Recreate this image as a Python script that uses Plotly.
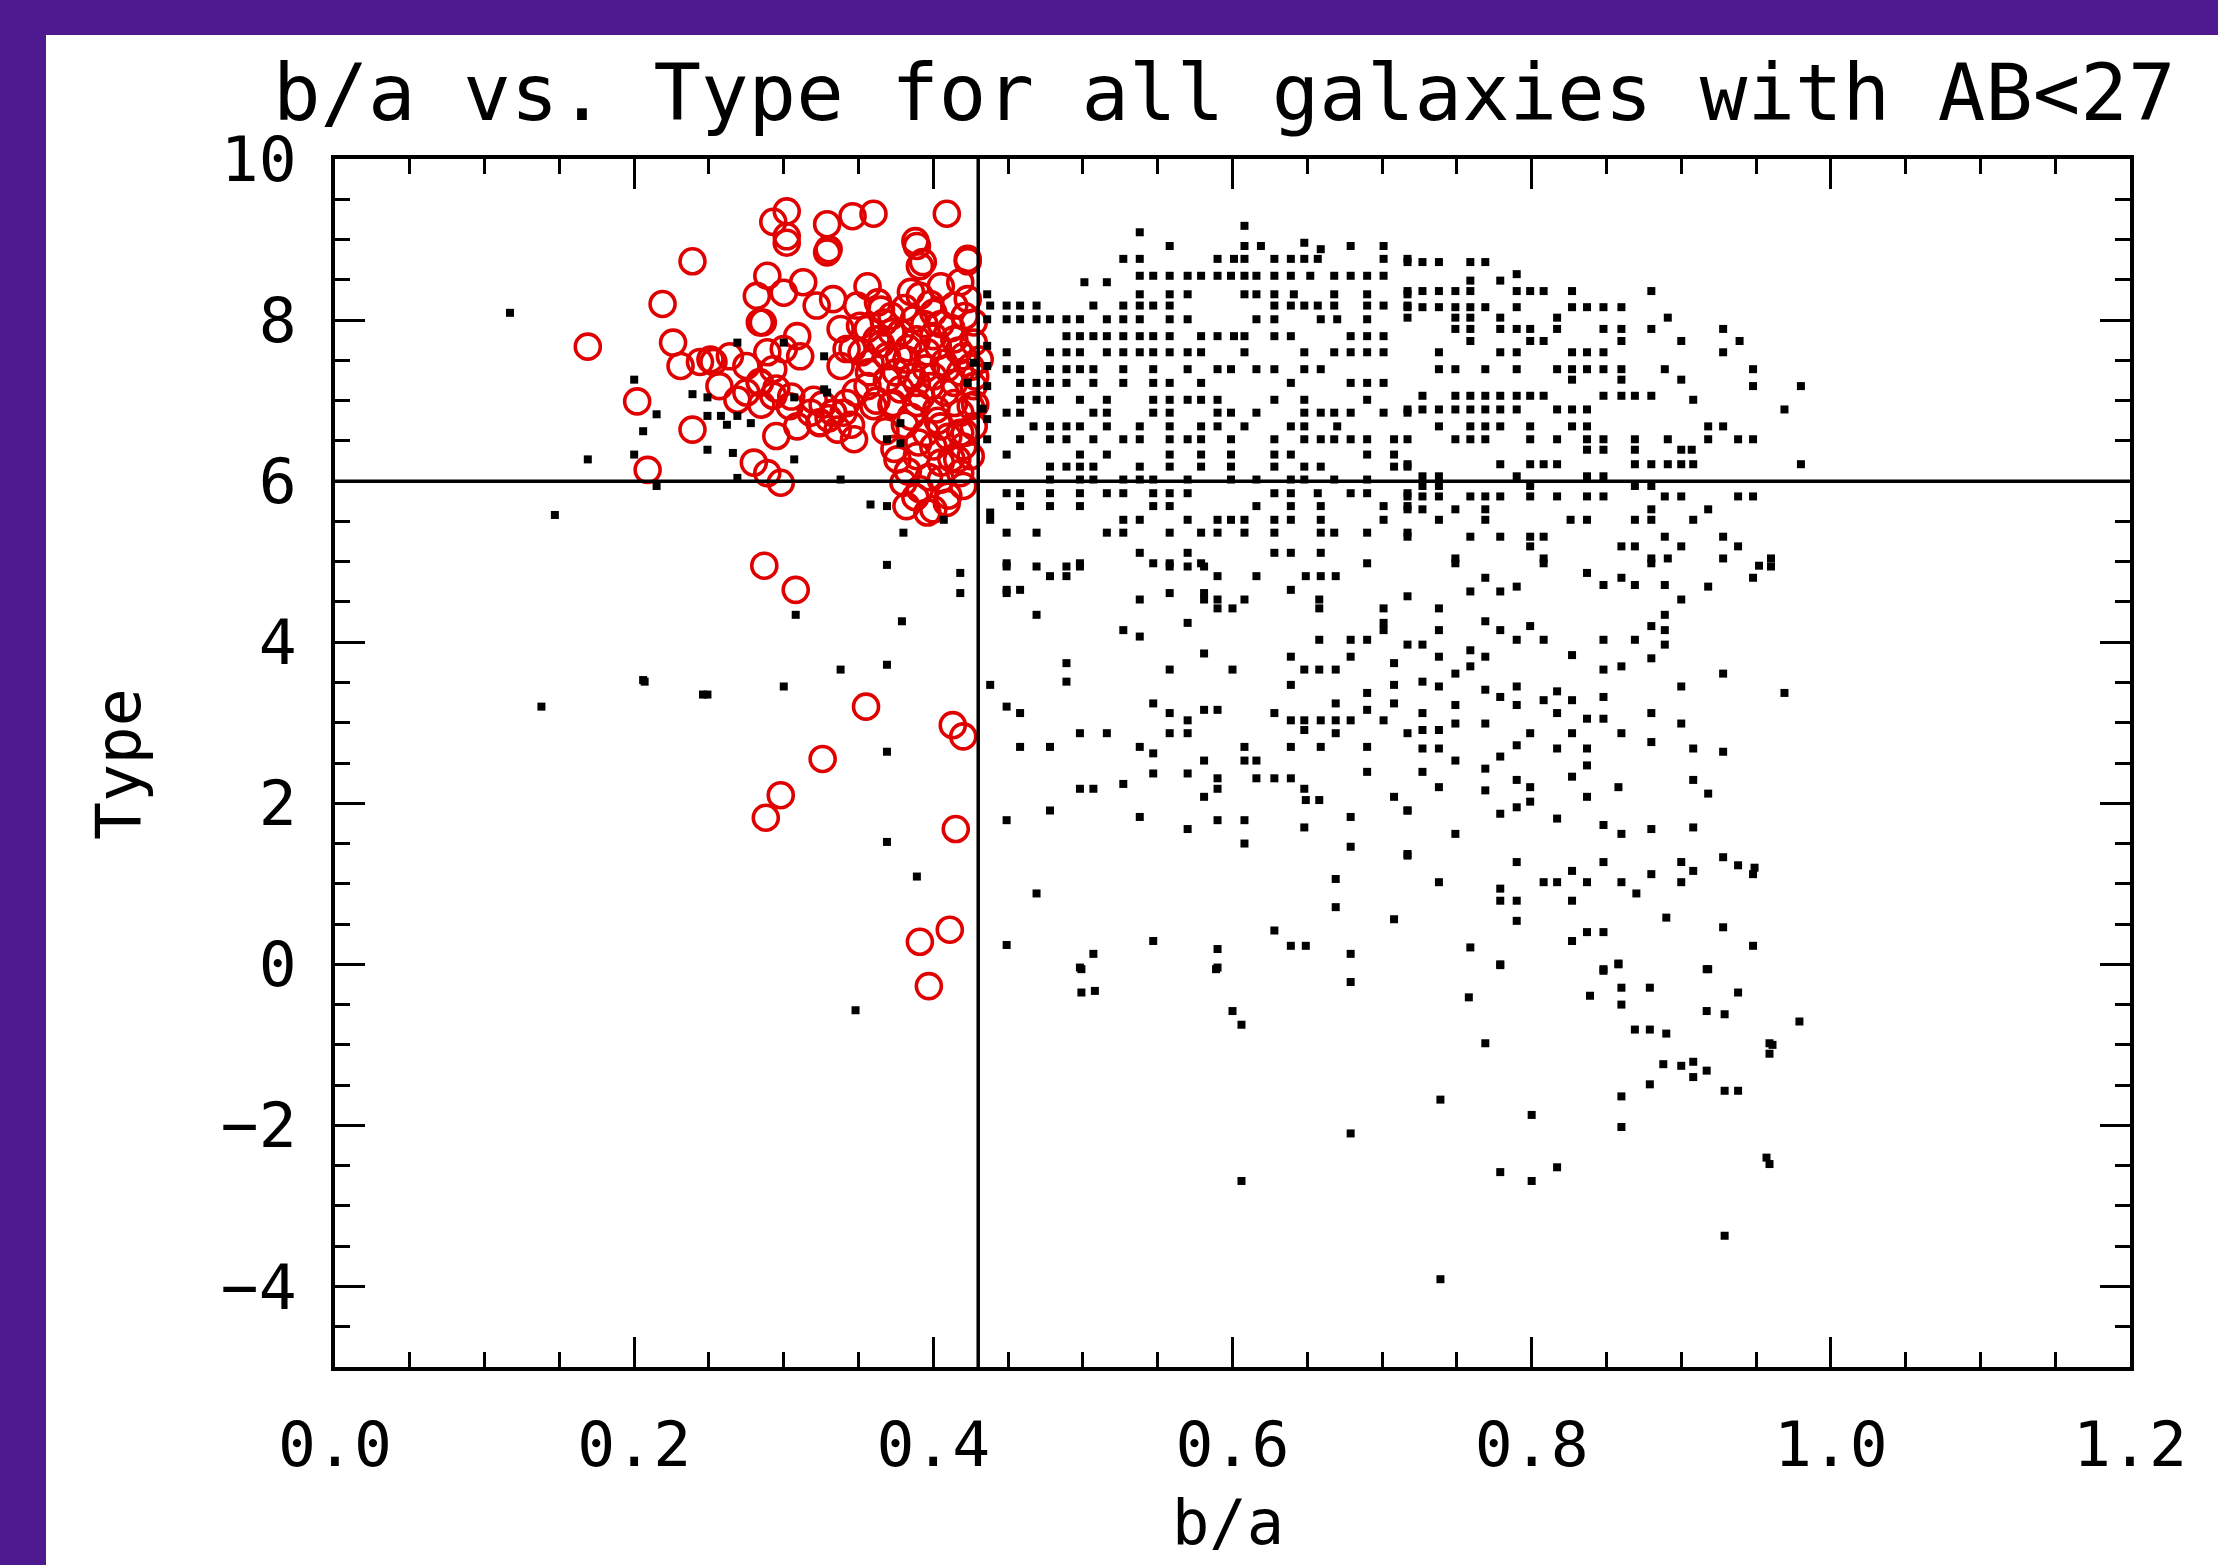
import plotly.graph_objects as go

# ---------------- data ----------------
title_text = "b/a vs. Type for all galaxies with AB<27"
x_title = "b/a"
y_title = "Type"
x_ticks = [0.0, 0.2, 0.4, 0.6, 0.8, 1.0, 1.2]
y_ticks = [-4, -2, 0, 2, 4, 6, 8, 10]
cut_ba = 0.43      # vertical selection line
cut_type = 6.0     # horizontal selection line

# Red open circles (selected galaxies): b/a and Type
red_ba = [
    0.169, 0.202, 0.209, 0.219, 0.226, 0.239, 0.239, 0.231, 0.244, 0.253,
    0.287, 0.308, 0.355, 0.326, 0.298, 0.288, 0.413, 0.420, 0.415, 0.391, 0.411, 0.397,
    0.293, 0.302, 0.302, 0.329, 0.330, 0.346, 0.360, 0.409, 0.388, 0.393, 0.423,
    0.302, 0.329, 0.389, 0.391, 0.423,
    0.289, 0.282, 0.300, 0.313, 0.322, 0.333, 0.356, 0.349, 0.365,
    0.284, 0.309, 0.338, 0.351, 0.362,
    0.391, 0.405, 0.418, 0.400, 0.414, 0.423, 0.387, 0.427,
    0.251, 0.264, 0.275, 0.289, 0.300, 0.311, 0.338, 0.342,
    0.378, 0.389, 0.400, 0.414, 0.427,
    0.358, 0.369, 0.382, 0.396, 0.407, 0.420, 0.431,
    0.257, 0.269, 0.284, 0.293, 0.304, 0.320, 0.333, 0.342,
    0.356, 0.369, 0.378, 0.389, 0.400, 0.414, 0.427,
    0.360, 0.373, 0.389, 0.402, 0.414, 0.425,
    0.295, 0.309, 0.324, 0.336, 0.347,
    0.405, 0.418, 0.427, 0.400, 0.420,
    0.280, 0.289, 0.298,
    0.376, 0.389, 0.405, 0.416, 0.425,
    0.380, 0.391, 0.405, 0.420,
    0.382, 0.396, 0.409,
    0.372, 0.383, 0.395, 0.408, 0.418, 0.385, 0.395, 0.410, 0.392, 0.375,
    0.405, 0.418, 0.428, 0.398, 0.385,
    0.275, 0.285, 0.295, 0.305, 0.318, 0.326, 0.330, 0.345, 0.340,
    0.286, 0.293, 0.284, 0.324, 0.333, 0.346, 0.356, 0.367, 0.363,
    0.372, 0.381, 0.394, 0.403, 0.412, 0.421, 0.377, 0.386, 0.398, 0.409,
    0.417, 0.425, 0.372, 0.381, 0.390, 0.403, 0.412, 0.421, 0.428, 0.368,
    0.374, 0.383, 0.397, 0.410, 0.418, 0.388, 0.400, 0.365, 0.352, 0.357,
    0.348, 0.362,
]
red_type = [
    7.67, 6.99, 6.14, 8.20, 7.72, 8.73, 6.64, 7.43, 7.48, 7.48,
    4.95, 4.65, 3.20, 2.55, 2.10, 1.82, 2.97, 2.83, 1.68, 0.28, 0.43, -0.27,
    9.22, 9.35, 9.04, 9.19, 8.88, 9.29, 9.32, 9.32, 8.98, 8.72, 8.73,
    8.96, 8.84, 8.92, 8.67, 8.76,
    8.55, 8.30, 8.34, 8.47, 8.18, 8.26, 8.42, 8.18, 8.13,
    7.97, 7.80, 7.89, 7.93, 7.76,
    8.30, 8.42, 8.47, 8.09, 8.18, 8.26, 8.01, 7.97,
    7.51, 7.55, 7.43, 7.60, 7.64, 7.55, 7.43, 7.64,
    7.84, 7.76, 7.80, 7.76, 7.72,
    7.47, 7.55, 7.51, 7.60, 7.47, 7.55, 7.51,
    7.18, 7.01, 7.22, 7.06, 6.93, 7.01, 6.85, 6.97,
    7.18, 7.26, 7.14, 7.22, 7.30, 7.22, 7.18,
    6.93, 6.97, 6.97, 6.89, 6.97, 6.93,
    6.56, 6.68, 6.72, 6.64, 6.52,
    6.68, 6.60, 6.68, 6.43, 6.43,
    6.23, 6.10, 5.98,
    6.27, 6.31, 6.23, 6.27, 6.31,
    5.98, 5.90, 6.02, 5.94,
    5.69, 5.61, 5.73,
    7.85, 7.65, 7.40, 7.10, 6.85, 6.80, 6.60, 6.55, 7.05, 7.35,
    7.95, 7.35, 7.30, 8.20, 8.35,
    7.10, 6.95, 7.15, 7.05, 6.85, 6.95, 6.78, 6.70, 6.85,
    7.97, 7.39, 7.23, 6.73, 6.85, 7.64, 7.89, 7.97, 8.22,
    8.05, 8.15, 7.95, 7.68, 7.90, 8.05, 7.55, 7.30, 7.18, 7.40,
    7.62, 7.42, 6.95, 6.70, 6.48, 6.75, 6.28, 6.60, 6.95, 6.62,
    6.40, 6.12, 6.05, 5.82, 6.10, 5.80, 5.65, 7.70, 7.60, 7.35,
    7.10, 7.00,
]

# Black dots, left of the b/a cut (b/a, Type)
left_ba = [
    0.117, 0.147, 0.169, 0.200, 0.200, 0.206, 0.215, 0.215, 0.239, 0.249,
    0.258, 0.269, 0.249, 0.266, 0.269, 0.300, 0.307, 0.327, 0.269, 0.307,
    0.338, 0.358, 0.369, 0.380, 0.407, 0.378, 0.369, 0.427, 0.423, 0.278,
    0.327, 0.329, 0.378, 0.249, 0.262,
    0.369, 0.418, 0.418, 0.308, 0.379, 0.369, 0.338, 0.300, 0.207, 0.249,
    0.138, 0.369, 0.369, 0.389, 0.348, 0.206, 0.246,
]
left_type = [
    8.09, 5.58, 6.27, 7.26, 6.33, 6.62, 6.83, 5.94, 7.08, 7.04,
    6.81, 6.81, 6.39, 6.35, 7.72, 7.72, 7.04, 7.14, 6.04, 6.27,
    6.02, 5.71, 5.69, 5.36, 5.52, 6.72, 6.52, 7.47, 7.22, 6.72,
    7.55, 7.10, 6.47, 6.81, 6.70,
    4.96, 4.86, 4.61, 4.34, 4.26, 3.72, 3.66, 3.45, 3.51, 3.35,
    3.20, 2.64, 1.52, 1.09, -0.57, 3.53, 3.35,
]

# Black dots, right of the cut, read row by row: (Type, [b/a values])
rows_upper_a = [
    (9.17, [0.608]),
    (9.09, [0.538]),
    (8.96, [0.648]),
    (8.92, [0.558, 0.608, 0.619, 0.679, 0.701]),
    (8.88, [0.659]),
    (8.76, [0.527, 0.538, 0.590, 0.601, 0.608, 0.628, 0.639, 0.648, 0.657, 0.701, 0.717]),
    (8.55, [0.538, 0.547, 0.558, 0.570, 0.579, 0.590, 0.599, 0.608, 0.616, 0.628, 0.639, 0.652, 0.668, 0.679, 0.690, 0.701]),
    (8.47, [0.501, 0.516]),
    (8.32, [0.436, 0.538, 0.558, 0.570, 0.608, 0.616, 0.628, 0.641, 0.668, 0.690, 0.717]),
    (8.18, [0.438, 0.449, 0.458, 0.469, 0.507, 0.527, 0.538, 0.547, 0.558, 0.628, 0.639, 0.648, 0.657, 0.668, 0.690, 0.701, 0.717]),
    (8.01, [0.436, 0.449, 0.458, 0.469, 0.478, 0.489, 0.498, 0.516, 0.527, 0.538, 0.558, 0.570, 0.616, 0.628, 0.659, 0.670, 0.690]),
    (7.80, [0.489, 0.498, 0.507, 0.516, 0.527, 0.538, 0.547, 0.558, 0.579, 0.590, 0.601, 0.608, 0.628, 0.639, 0.679, 0.690, 0.701]),
    (7.68, [0.436]),
    (7.60, [0.449, 0.478, 0.489, 0.498, 0.516, 0.527, 0.538, 0.547, 0.558, 0.570, 0.579, 0.608, 0.648, 0.668, 0.679, 0.690, 0.701]),
    (7.43, [0.436]),
    (7.39, [0.449, 0.458, 0.478, 0.489, 0.498, 0.507, 0.527, 0.547, 0.570, 0.590, 0.599, 0.616, 0.628, 0.648, 0.659]),
    (7.22, [0.458, 0.469, 0.478, 0.489, 0.507, 0.527, 0.547, 0.558, 0.579, 0.639, 0.679, 0.690, 0.701]),
    (7.18, [0.436]),
    (7.01, [0.458, 0.469, 0.478, 0.498, 0.516, 0.547, 0.558, 0.570, 0.579, 0.590, 0.628, 0.648, 0.690]),
    (6.90, [0.433]),
    (6.85, [0.449, 0.458, 0.507, 0.516, 0.547, 0.558, 0.590, 0.599, 0.616, 0.648, 0.659, 0.668, 0.679, 0.701, 0.717]),
    (6.77, [0.436]),
    (6.68, [0.467, 0.478, 0.489, 0.498, 0.516, 0.538, 0.558, 0.579, 0.590, 0.608, 0.639, 0.648, 0.670]),
    (6.52, [0.436, 0.458, 0.478, 0.489, 0.507, 0.527, 0.538, 0.558, 0.570, 0.579, 0.599, 0.628, 0.648, 0.659, 0.668, 0.679, 0.690, 0.708]),
    (6.33, [0.449, 0.498, 0.516, 0.558, 0.579, 0.599, 0.628, 0.639, 0.690, 0.708]),
    (6.18, [0.478, 0.489, 0.498, 0.507, 0.538, 0.558, 0.579, 0.599, 0.628, 0.648, 0.659, 0.708, 0.717]),
    (6.02, [0.478, 0.498, 0.507, 0.527, 0.538, 0.547, 0.570, 0.599, 0.616, 0.639, 0.648, 0.668, 0.690]),
    (5.85, [0.449, 0.458, 0.478, 0.498, 0.516, 0.527, 0.547, 0.558, 0.570, 0.628, 0.639, 0.657, 0.679, 0.690, 0.717]),
    (5.69, [0.458, 0.478, 0.498, 0.547, 0.558, 0.616, 0.639, 0.659, 0.701, 0.717]),
    (5.61, [0.438]),
    (5.52, [0.438, 0.527, 0.538, 0.570, 0.590, 0.599, 0.608, 0.628, 0.639, 0.659, 0.701]),
    (5.36, [0.449, 0.469, 0.516, 0.527, 0.558, 0.579, 0.590, 0.608, 0.628, 0.659, 0.668, 0.690, 0.717]),
    (5.11, [0.538, 0.570, 0.628, 0.639, 0.659]),
    (4.98, [0.449, 0.498, 0.547, 0.558, 0.579, 0.690]),
]

rows_upper_b = [
    (8.72, [0.717, 0.727, 0.738, 0.759, 0.769]),
    (8.57, [0.790]),
    (8.49, [0.759, 0.779]),
    (8.36, [0.717, 0.727, 0.738, 0.749, 0.759, 0.790, 0.799, 0.808, 0.827, 0.880]),
    (8.16, [0.717, 0.727, 0.738, 0.749, 0.759, 0.769, 0.790, 0.827, 0.837, 0.848, 0.860]),
    (8.03, [0.717, 0.749, 0.759, 0.779, 0.817, 0.891]),
    (7.89, [0.749, 0.759, 0.779, 0.790, 0.799, 0.817, 0.848, 0.860, 0.880, 0.928]),
    (7.74, [0.759, 0.799, 0.808, 0.860, 0.900, 0.939]),
    (7.60, [0.738, 0.779, 0.790, 0.827, 0.837, 0.848, 0.928]),
    (7.39, [0.738, 0.749, 0.769, 0.790, 0.817, 0.827, 0.837, 0.848, 0.860, 0.889, 0.948]),
    (7.26, [0.827, 0.860, 0.900]),
    (7.18, [0.948, 0.980]),
    (7.06, [0.727, 0.749, 0.759, 0.769, 0.779, 0.790, 0.799, 0.808, 0.848, 0.860, 0.869, 0.880]),
    (7.01, [0.908]),
    (6.89, [0.717, 0.727, 0.738, 0.749, 0.759, 0.769, 0.779, 0.790, 0.817, 0.827, 0.837, 0.969]),
    (6.68, [0.738, 0.759, 0.769, 0.779, 0.799, 0.827, 0.837, 0.918, 0.928]),
    (6.52, [0.717, 0.749, 0.759, 0.769, 0.799, 0.817, 0.837, 0.848, 0.869, 0.891, 0.918, 0.938, 0.948]),
    (6.39, [0.837, 0.848, 0.869, 0.900, 0.907]),
    (6.21, [0.717, 0.779, 0.799, 0.808, 0.817, 0.869, 0.880, 0.891, 0.900, 0.908, 0.980]),
    (6.06, [0.727, 0.738, 0.790, 0.837, 0.848]),
    (5.94, [0.727, 0.738, 0.799, 0.869, 0.880]),
    (5.81, [0.717, 0.727, 0.738, 0.759, 0.769, 0.779, 0.799, 0.817, 0.837, 0.848, 0.889, 0.900, 0.938, 0.948]),
    (5.65, [0.717, 0.727, 0.749, 0.769, 0.880, 0.918]),
    (5.52, [0.738, 0.769, 0.826, 0.837, 0.869, 0.880, 0.908]),
    (5.31, [0.717, 0.759, 0.779, 0.799, 0.808, 0.889, 0.928]),
    (5.19, [0.799, 0.860, 0.869, 0.900, 0.938]),
    (5.04, [0.749, 0.808, 0.880, 0.891, 0.928, 0.960]),
    (4.95, [0.952]),
]

rows_middle_a = [
    (4.94, [0.449, 0.469, 0.489, 0.498, 0.558, 0.570, 0.581]),
    (4.82, [0.478, 0.489, 0.590, 0.616, 0.649, 0.659, 0.669]),
    (4.65, [0.449, 0.458, 0.639]),
    (4.61, [0.449, 0.558, 0.581]),
    (4.53, [0.538, 0.581, 0.590, 0.608, 0.658]),
    (4.42, [0.590, 0.600, 0.658, 0.701]),
    (4.34, [0.469]),
    (4.24, [0.570, 0.701]),
    (4.15, [0.527, 0.701]),
    (4.07, [0.538]),
    (4.03, [0.658, 0.679, 0.690]),
    (3.86, [0.581]),
    (3.82, [0.639, 0.679]),
    (3.74, [0.489, 0.708]),
    (3.66, [0.558, 0.600, 0.648, 0.658, 0.669]),
    (3.51, [0.489]),
    (3.47, [0.438, 0.639, 0.708]),
    (3.37, [0.690]),
    (3.24, [0.547, 0.669, 0.708]),
    (3.20, [0.449]),
    (3.16, [0.581, 0.590, 0.690]),
    (3.12, [0.458, 0.558, 0.628]),
    (3.03, [0.570, 0.639, 0.648, 0.659, 0.669, 0.679, 0.701]),
    (2.91, [0.648]),
    (2.87, [0.498, 0.516, 0.558, 0.570, 0.669]),
    (2.70, [0.458, 0.478, 0.538, 0.608, 0.639, 0.659, 0.690]),
    (2.62, [0.547]),
    (2.53, [0.581, 0.608, 0.616]),
    (2.39, [0.690]),
    (2.37, [0.547, 0.570]),
    (2.31, [0.590, 0.616, 0.628, 0.639]),
    (2.24, [0.527]),
    (2.18, [0.498, 0.507, 0.590, 0.648]),
    (2.08, [0.581, 0.708]),
    (2.04, [0.649, 0.658]),
    (1.91, [0.478, 0.717]),
    (1.83, [0.538, 0.679]),
    (1.79, [0.449, 0.590, 0.608]),
    (1.70, [0.648]),
    (1.68, [0.570]),
    (1.50, [0.608]),
    (1.46, [0.679]),
    (1.37, [0.717]),
    (1.06, [0.669]),
    (0.88, [0.469]),
    (0.71, [0.669]),
    (0.56, [0.708]),
    (0.42, [0.628]),
    (0.29, [0.547]),
    (0.24, [0.449]),
    (0.23, [0.639, 0.649]),
    (0.19, [0.590]),
    (0.13, [0.507, 0.679]),
    (-0.04, [0.498, 0.590]),
]

rows_middle_b = [
    (4.98, [0.749, 0.808, 0.880]),
    (4.94, [0.960]),
    (4.86, [0.837]),
    (4.80, [0.769, 0.860, 0.948]),
    (4.71, [0.848, 0.869, 0.889]),
    (4.69, [0.790, 0.918]),
    (4.63, [0.759, 0.779]),
    (4.57, [0.717]),
    (4.53, [0.900]),
    (4.42, [0.738]),
    (4.34, [0.889]),
    (4.26, [0.769]),
    (4.20, [0.799, 0.880]),
    (4.15, [0.738, 0.779, 0.889]),
    (4.03, [0.790, 0.808, 0.848, 0.869]),
    (3.97, [0.717, 0.727, 0.889]),
    (3.90, [0.759]),
    (3.84, [0.827]),
    (3.82, [0.738, 0.769]),
    (3.80, [0.880]),
    (3.70, [0.759, 0.860]),
    (3.66, [0.848]),
    (3.61, [0.749, 0.928]),
    (3.51, [0.727]),
    (3.45, [0.738, 0.790, 0.900]),
    (3.41, [0.769]),
    (3.39, [0.817]),
    (3.37, [0.969]),
    (3.32, [0.779, 0.848]),
    (3.28, [0.808, 0.827]),
    (3.22, [0.749, 0.790]),
    (3.12, [0.727, 0.817, 0.880]),
    (3.05, [0.837, 0.848]),
    (2.99, [0.749, 0.769, 0.900]),
    (2.91, [0.727, 0.738]),
    (2.87, [0.717, 0.799, 0.827, 0.860]),
    (2.76, [0.880]),
    (2.72, [0.790]),
    (2.68, [0.727, 0.738, 0.817, 0.837, 0.908]),
    (2.64, [0.928]),
    (2.58, [0.779]),
    (2.53, [0.749]),
    (2.47, [0.837]),
    (2.43, [0.769]),
    (2.39, [0.727]),
    (2.33, [0.827]),
    (2.29, [0.790, 0.908]),
    (2.20, [0.738, 0.799, 0.858]),
    (2.16, [0.769]),
    (2.12, [0.918]),
    (2.08, [0.837]),
    (2.02, [0.799]),
    (1.95, [0.790]),
    (1.91, [0.717]),
    (1.87, [0.779]),
    (1.81, [0.817]),
    (1.73, [0.848]),
    (1.70, [0.908]),
    (1.68, [0.880]),
    (1.62, [0.749, 0.860]),
    (1.35, [0.717]),
    (1.33, [0.928]),
    (1.27, [0.790, 0.848, 0.900]),
    (1.23, [0.938]),
    (1.20, [0.949]),
    (1.16, [0.827, 0.908]),
    (1.12, [0.880, 0.948]),
    (1.02, [0.738, 0.808, 0.817, 0.837, 0.860, 0.900]),
    (0.94, [0.779]),
    (0.88, [0.870]),
    (0.79, [0.779, 0.790, 0.827]),
    (0.58, [0.890]),
    (0.54, [0.790]),
    (0.46, [0.928]),
    (0.40, [0.837, 0.848]),
    (0.29, [0.827]),
    (0.23, [0.948]),
    (0.21, [0.759]),
    (0.00, [0.779, 0.858]),
    (-0.06, [0.848, 0.918]),
]

# Sparse black dots below Type = 0 (b/a, Type)
low_ba = [
    0.499, 0.589, 0.779, 0.848, 0.858, 0.917, 0.499, 0.508, 0.679, 0.758,
    0.839, 0.860, 0.879, 0.860, 0.938, 0.600, 0.606, 0.917, 0.929, 0.979,
    0.869, 0.879, 0.890, 0.769, 0.959, 0.959, 0.888, 0.900, 0.908, 0.908,
    0.917, 0.879, 0.929, 0.938, 0.860, 0.739, 0.800, 0.860, 0.679, 0.779,
    0.800, 0.817, 0.606, 0.959, 0.929, 0.739, 0.961, 0.957,
]
low_type = [
    -0.06, -0.06, -0.01, -0.08, 0.01, -0.06, -0.35, -0.33, -0.22, -0.41,
    -0.39, -0.29, -0.29, -0.50, -0.35, -0.58, -0.75, -0.58, -0.62, -0.71,
    -0.81, -0.81, -0.86, -0.98, -0.98, -1.11, -1.24, -1.26, -1.21, -1.40,
    -1.32, -1.49, -1.57, -1.57, -1.64, -1.68, -1.87, -2.02, -2.10, -2.58,
    -2.69, -2.52, -2.69, -2.48, -3.37, -3.91, -1.00, -2.40,
]

# ---------------- assemble ----------------
black_ba = list(left_ba) + list(low_ba)
black_type = list(left_type) + list(low_type)
for rows in (rows_upper_a, rows_upper_b, rows_middle_a, rows_middle_b):
    for t, xs in rows:
        for b in xs:
            black_ba.append(b)
            black_type.append(t)

W, H = 2218, 1565
L, R, T, B = 335, 88, 159, 198
plot_w = W - L - R
plot_h = H - T - B

purple = "#4F1A8F"
mono = "DejaVu Sans Mono"

fig = go.Figure()

fig.add_trace(go.Scatter(
    x=red_ba, y=red_type, mode="markers",
    marker=dict(symbol="circle-open", size=25, color="#E00000",
                line=dict(width=3.6, color="#E00000")),
    hoverinfo="skip", showlegend=False,
))
fig.add_trace(go.Scatter(
    x=black_ba, y=black_type, mode="markers",
    marker=dict(symbol="square", size=8, color="black", line=dict(width=0)),
    hoverinfo="skip", showlegend=False,
))

fig.add_vline(x=cut_ba, line=dict(color="black", width=3.5))
fig.add_hline(y=cut_type, line=dict(color="black", width=3.5))

# white panel over the purple page
def px_to_paper_x(px):
    return (px - L) / plot_w

def px_to_paper_y(py):
    return (H - B - py) / plot_h

fig.add_shape(type="rect", xref="paper", yref="paper", layer="below",
              x0=px_to_paper_x(46), x1=px_to_paper_x(W + 10),
              y0=px_to_paper_y(H + 10), y1=px_to_paper_y(35),
              fillcolor="white", line=dict(width=0))

axis_common = dict(
    showgrid=False, zeroline=False, showline=True, linecolor="black",
    linewidth=3.5, mirror="allticks", ticks="inside", tickcolor="black",
    tickwidth=3, ticklen=30,
    tickfont=dict(family=mono, size=63, color="black"),
)

fig.update_xaxes(
    range=[0, 1.2], tickvals=x_ticks, tickformat=".1f",
    minor=dict(dtick=0.05, ticks="inside", ticklen=15, tickwidth=2.5, tickcolor="black"),
    ticklabelstandoff=20,
    **axis_common,
)
fig.update_yaxes(
    range=[-5, 10], tickvals=y_ticks,
    minor=dict(dtick=0.5, ticks="inside", ticklen=15, tickwidth=2.5, tickcolor="black"),
    ticklabelstandoff=22,
    **axis_common,
)

fig.add_annotation(text=title_text, xref="paper", yref="paper",
                   x=px_to_paper_x(1224), y=px_to_paper_y(93),
                   xanchor="center", yanchor="middle", showarrow=False,
                   font=dict(family=mono, size=79, color="black"))
fig.add_annotation(text=x_title, xref="paper", yref="paper",
                   x=px_to_paper_x(1228), y=px_to_paper_y(1522),
                   xanchor="center", yanchor="middle", showarrow=False,
                   font=dict(family=mono, size=62, color="black"))
fig.add_annotation(text=y_title, xref="paper", yref="paper",
                   x=px_to_paper_x(118), y=px_to_paper_y(764),
                   xanchor="center", yanchor="middle", showarrow=False,
                   textangle=-90,
                   font=dict(family=mono, size=63, color="black"))

fig.update_layout(
    width=W, height=H,
    margin=dict(l=L, r=R, t=T, b=B, pad=0),
    paper_bgcolor=purple, plot_bgcolor="white",
    showlegend=False,
)

fig.write_html(
    "out.html",
    config={"displayModeBar": False},
    post_script="document.body.style.margin='0px';document.body.style.background='%s';" % purple,
)
